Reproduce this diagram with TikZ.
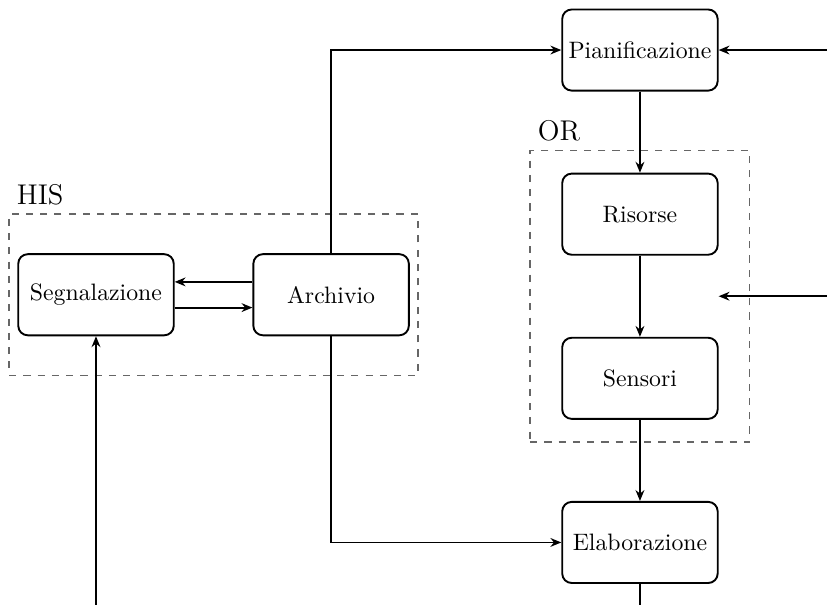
\documentclass[tikz,border=0pt]{standalone}
\usepackage{tikz}
\usetikzlibrary{arrows.meta,positioning,fit}

\begin{document}
\begin{tikzpicture}[
      node distance=1.2cm,
      block/.style={draw,thick,rounded corners,minimum width=2.3cm,minimum height=1.2cm,inner xsep=2pt,align=center},
      group/.style={draw=black!60,semithick,dashed},
      flow/.style={-{Stealth[length=1.6mm,width=1.3mm]},thick}
    ]
      \useasboundingbox (0,0) rectangle (12.234,-8.935);
      \node[block] (pian) at (9.467,-0.74) {Pianificazione};
      \node[block,below=of pian] (ris) {Risorse};
      \node[block,below=of ris] (sens) {Sensori};
      \node[block,below=of sens] (elab) {Elaborazione};
      \node[block] (segn) at (1.42,-4.36) {Segnalazione};
      \node[block,right=1.15cm of segn] (arch) {Archivio};
      \node[group,fit=(segn)(arch),inner xsep=0.12cm,inner ysep=0.58cm,
        label={[anchor=south west]north west:\large HIS}] (his) {};
      \node[group,fit=(ris)(sens),inner xsep=0.46cm,inner ysep=0.33cm,
        label={[anchor=south west]north west:\large OR}] (or) {};
      \coordinate[right=1.62cm of pian] (inpian);
      \coordinate[right=1.16cm of or] (inor);
      \coordinate (orend) at (ris.east |- or.east);
      \coordinate[below=3.98cm of segn] (insegn);
      \coordinate[below=0.36cm of elab] (outelab);
      \draw[flow] (arch.north) |- (pian.west);
      \draw[flow] (arch.south) |- (elab.west);
      \draw[flow] ([yshift=0.19cm]arch.west) -- ([yshift=0.19cm]segn.east);
      \draw[flow] ([yshift=-0.19cm]segn.east) -- ([yshift=-0.19cm]arch.west);
      \draw[flow] (pian) -- (ris);
      \draw[flow] (ris) -- (sens);
      \draw[flow] (sens) -- (elab);
      \draw[flow] (inpian) -- (pian);
      \draw[flow] (inor) -- (orend);
      \draw[flow] (insegn) -- (segn);
      \draw[thick] (elab) -- (outelab);
    \end{tikzpicture}
\end{document}
